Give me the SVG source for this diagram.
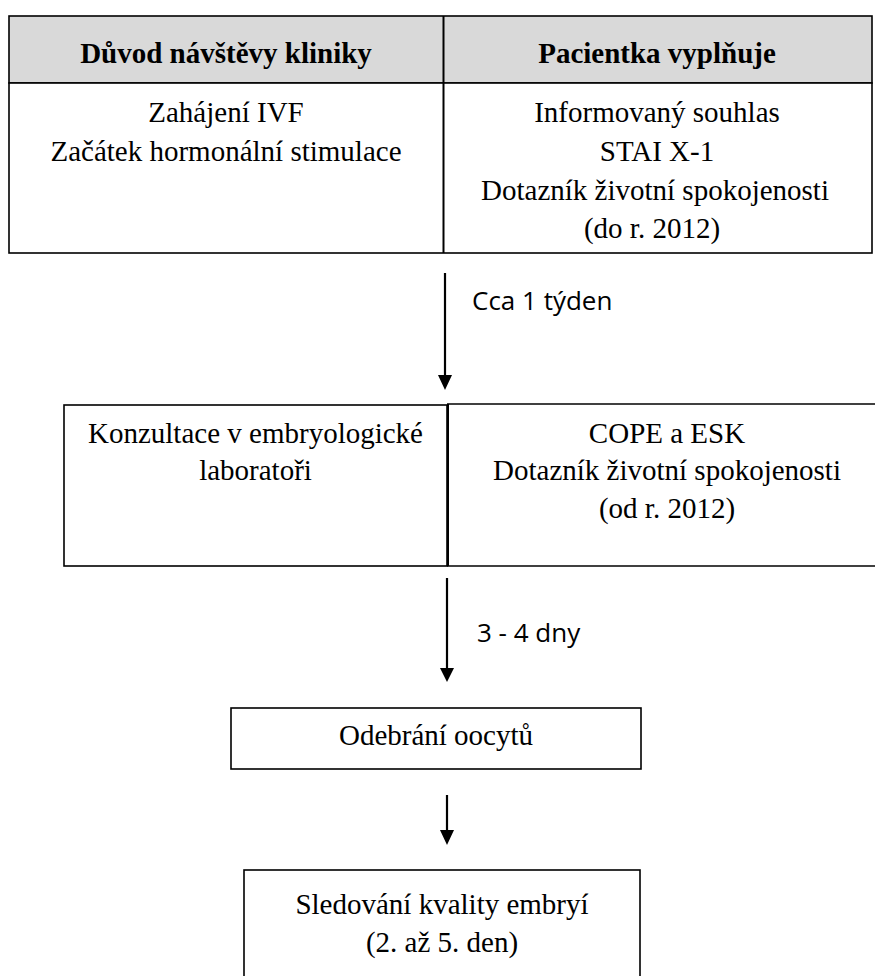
<svg xmlns="http://www.w3.org/2000/svg" width="875" height="976" viewBox="0 0 875 976">
<style>
.box{fill:#ffffff;stroke:#000000;stroke-width:1.6}
.hdr{fill:#d9d9d9;stroke:#000000;stroke-width:1.6}
.ln{stroke:#000000;stroke-width:1.6;fill:none}
.t{font-family:"Liberation Serif","Times New Roman",serif;font-size:29px;fill:#000000;text-anchor:middle}
.b{font-weight:bold}
.s{font-family:"Open Sans","Noto Sans",sans-serif;font-size:26px;fill:#000000}
.arr{stroke:#000000;stroke-width:2.2;fill:none}
.head{fill:#000000}
</style>
<rect width="875" height="976" fill="#ffffff"/>
<g id="table-top">
  <rect class="hdr" x="9" y="16" width="863" height="67"/>
  <rect class="box" x="9" y="83" width="863" height="170"/>
  <line class="ln" x1="443.5" y1="16" x2="443.5" y2="253" style="stroke-width:2"/>
  <text class="t b" x="226" y="63">Důvod návštěvy kliniky</text>
  <text class="t b" x="657" y="63">Pacientka vyplňuje</text>
</g>
<g id="node-start">
  <text class="t" x="226" y="122">Zahájení IVF</text>
  <text class="t" x="226" y="161">Začátek hormonální stimulace</text>
</g>
<g id="node-forms1">
  <text class="t" x="657" y="122">Informovaný souhlas</text>
  <text class="t" x="657" y="161">STAI X-1</text>
  <text class="t" x="655" y="200">Dotazník životní spokojenosti</text>
  <text class="t" x="652" y="238">(do r. 2012)</text>
</g>
<g id="node-konzultace">
  <rect class="box" x="64" y="405" width="383" height="161"/>
  <text class="t" x="255.5" y="443">Konzultace v embryologické</text>
  <text class="t" x="255.5" y="480">laboratoři</text>
</g>
<g id="node-forms2">
  <line class="ln" x1="447" y1="404" x2="876" y2="404"/>
  <line class="ln" x1="447" y1="566" x2="876" y2="566"/>
  <line class="ln" x1="448" y1="404" x2="448" y2="566" style="stroke-width:2"/>
  <text class="t" x="667" y="443">COPE a ESK</text>
  <text class="t" x="667" y="480">Dotazník životní spokojenosti</text>
  <text class="t" x="667" y="518">(od r. 2012)</text>
</g>
<g id="node-odebrani">
  <rect class="box" x="231" y="708" width="410" height="61"/>
  <text class="t" x="436" y="745">Odebrání oocytů</text>
</g>
<g id="node-sledovani">
  <rect class="box" x="244" y="870" width="396" height="120"/>
  <text class="t" x="442" y="914">Sledování kvality embryí</text>
  <text class="t" x="442" y="952">(2. až 5. den)</text>
</g>
<g id="connectors">
  <line class="arr" x1="445" y1="273" x2="445" y2="377"/>
  <polygon class="head" points="438,375 452,375 445,390"/>
  <text class="s" x="472" y="310">Cca 1 týden</text>
  <line class="arr" x1="447" y1="578" x2="447" y2="670"/>
  <polygon class="head" points="440,668 454,668 447,682"/>
  <text class="s" x="477" y="642">3 - 4 dny</text>
  <line class="arr" x1="447" y1="795" x2="447" y2="832"/>
  <polygon class="head" points="440,830 454,830 447,845"/>
</g>
</svg>
